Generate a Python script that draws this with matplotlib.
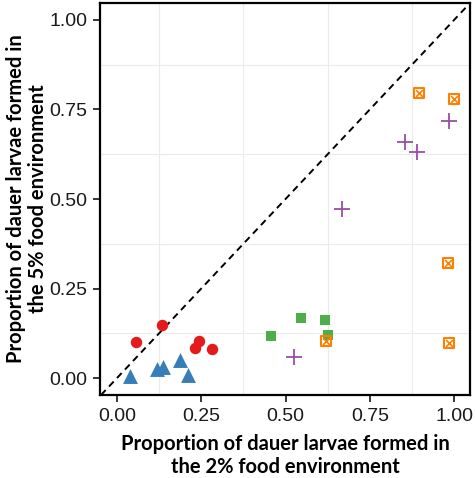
import matplotlib
matplotlib.use("Agg")
import matplotlib.pyplot as plt
import numpy as np

# proportions (x = 2% food, y = 5% food)
red_x = [0.056, 0.134, 0.231, 0.243, 0.282]
red_y = [0.100, 0.148, 0.084, 0.103, 0.081]

blue_x = [0.038, 0.120, 0.137, 0.188, 0.210]
blue_y = [0.005, 0.025, 0.030, 0.050, 0.008]

green_x = [0.457, 0.546, 0.617, 0.626]
green_y = [0.117, 0.168, 0.162, 0.120]

orange_x = [0.620, 0.896, 1.000, 0.982, 0.985]
orange_y = [0.103, 0.796, 0.779, 0.321, 0.098]

purple_x = [0.525, 0.668, 0.855, 0.890, 0.985]
purple_y = [0.059, 0.472, 0.659, 0.631, 0.718]

ticks = [0.0, 0.25, 0.5, 0.75, 1.0]
tick_labels = ["0.00", "0.25", "0.50", "0.75", "1.00"]
minor = [0.125, 0.375, 0.625, 0.875]

fig = plt.figure(figsize=(4.75, 4.78), dpi=100)
ax = fig.add_axes([0.2105, 0.1736, 0.779, 0.82])

ax.set_xlim(-0.05, 1.047)
ax.set_ylim(-0.047, 1.047)

# light grid on the minor positions only
for v in minor:
    ax.axvline(v, color="#ebebeb", lw=0.8, zorder=0)
    ax.axhline(v, color="#ebebeb", lw=0.8, zorder=0)

ax.axline((0, 0), slope=1, color="black", lw=1.4, ls=(0, (3.5, 2.5)), zorder=1)

ax.scatter(red_x, red_y, s=68, marker="o", color="#e41a1c", lw=0, zorder=3)
ax.scatter(blue_x, blue_y, s=115, marker="^", color="#377eb8", lw=0, zorder=3)
ax.scatter(green_x, green_y, s=62, marker="s", color="#4daf4a", lw=0, zorder=3)
ax.scatter(orange_x, orange_y, s=52, marker="s", facecolors="none",
           edgecolors="#ff7f00", lw=1.5, zorder=4)
ax.scatter(orange_x, orange_y, s=24, marker="x", color="#ff7f00", lw=1.2, zorder=4)
ax.scatter(purple_x, purple_y, s=130, marker="+", color="#984ea3", lw=1.3, zorder=3)

ax.set_xticks(ticks)
ax.set_xticklabels(tick_labels)
ax.set_yticks(ticks)
ax.set_yticklabels(tick_labels)
for lab in ax.get_xticklabels() + ax.get_yticklabels():
    lab.set_family("Liberation Sans")
    lab.set_fontsize(14)
    lab.set_color("#1a1a1a")
ax.tick_params(length=5, width=1.1, color="black", pad=4)

for sp in ax.spines.values():
    sp.set_linewidth(1.6)
    sp.set_color("black")

label_font = dict(family="Lato", fontweight="bold", fontsize=14.5, linespacing=1.15)
ax.set_xlabel("Proportion of dauer larvae formed in\nthe 2% food environment",
              labelpad=7, **label_font)
ax.set_ylabel("Proportion of dauer larvae formed in\nthe 5% food environment",
              **label_font)
# keep the two-line y label inside the canvas
ax.yaxis.set_label_coords(-0.14, 0.5)

fig.savefig("out.png", dpi=100)
